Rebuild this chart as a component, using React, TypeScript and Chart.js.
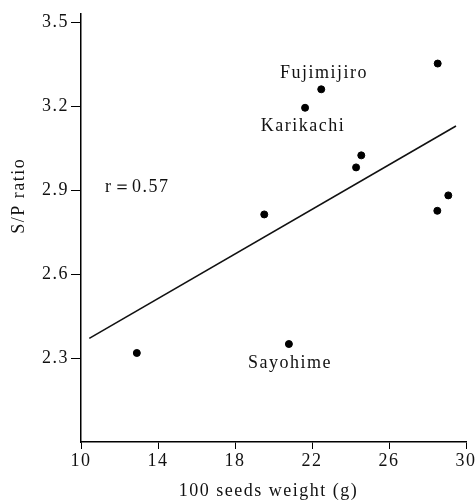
import React, { useEffect, useRef } from "react";
import { Chart, registerables } from "chart.js";

Chart.register(...registerables);

const seedWeight = [12.9, 20.8, 28.53, 22.48, 21.64, 24.56, 24.29, 19.52, 29.08, 28.51];
const spRatio = [2.318, 2.35, 3.352, 3.26, 3.194, 3.024, 2.981, 2.813, 2.881, 2.826];
const fitX = [10.43, 29.48];
const fitY = [2.37, 3.129];
const yTicks = [2.3, 2.6, 2.9, 3.2, 3.5];
const labelTexts = ["Fujimijiro", "Karikachi", "Sayohime", "r\uFF1D0.57"];
const labelX = [22.62, 21.53, 20.86, 11.25];
const labelY = [3.318, 3.129, 2.282, 2.911];
const labelAlign = ["center", "center", "center", "left"];
const xTitle = "100 seeds weight (g)";
const yTitle = "S/P ratio";

const FONT = "'Liberation Serif', 'DejaVu Serif', serif";
const SPACING = "1.5px";

const labelPlugin = {
  id: "labels",
  beforeDraw(chart: any) {
    (chart.ctx as any).letterSpacing = SPACING;
  },
  afterDatasetsDraw(chart: any) {
    const { ctx, scales, chartArea } = chart;
    ctx.save();
    (ctx as any).letterSpacing = SPACING;
    ctx.fillStyle = "#111";
    ctx.font = `18px ${FONT}`;
    ctx.textBaseline = "middle";
    labelTexts.forEach((t, i) => {
      ctx.textAlign = labelAlign[i];
      ctx.fillText(t, scales.x.getPixelForValue(labelX[i]), scales.y.getPixelForValue(labelY[i]));
    });
    // axis titles
    ctx.textAlign = "center";
    ctx.fillText(xTitle, (chartArea.left + chartArea.right) / 2 - 5, chartArea.bottom + 49);
    ctx.translate(19, scales.y.getPixelForValue(2.88));
    ctx.rotate(-Math.PI / 2);
    ctx.fillText(yTitle, 0, 0);
    ctx.restore();
  },
};

export default function App() {
  const ref = useRef<HTMLCanvasElement>(null);
  useEffect(() => {
    if (!ref.current) return;
    const chart = new Chart(ref.current, {
      type: "scatter",
      data: {
        datasets: [
          {
            label: "points",
            data: seedWeight.map((x, i) => ({ x, y: spRatio[i] })),
            backgroundColor: "#000",
            borderColor: "#000",
            pointRadius: 3.5,
            pointHoverRadius: 3.5,
          },
          {
            type: "line",
            label: "fit",
            data: fitX.map((x, i) => ({ x, y: fitY[i] })),
            borderColor: "#111",
            borderWidth: 1.6,
            pointRadius: 0,
            fill: false,
          } as any,
        ],
      },
      options: {
        animation: false,
        responsive: true,
        maintainAspectRatio: false,
        layout: { padding: { top: 14, right: 10, left: 0, bottom: 0 } },
        plugins: { legend: { display: false }, tooltip: { enabled: false } },
        scales: {
          x: {
            type: "linear",
            min: 10,
            max: 30,
            ticks: { stepSize: 4, color: "#111", font: { family: FONT, size: 18 }, padding: 1 },
            grid: { drawOnChartArea: false, drawTicks: true, tickLength: 7, color: "#000" },
            border: { display: true, color: "#000", width: 1.5 },
            afterFit: (s: any) => { s.height = 59; },
          },
          y: {
            type: "linear",
            min: 2.0,
            max: 3.529,
            afterBuildTicks: (s: any) => { s.ticks = yTicks.map((v) => ({ value: v })); },
            ticks: { color: "#111", font: { family: FONT, size: 18 }, padding: 2, callback: (v: any) => Number(v).toFixed(1) },
            grid: { drawOnChartArea: false, drawTicks: true, tickLength: 10, color: "#000" },
            border: { display: true, color: "#000", width: 1.5 },
            afterFit: (s: any) => { s.width = 81; },
          },
        },
      },
      plugins: [labelPlugin],
    });
    return () => chart.destroy();
  }, []);
  return (
    <div style={{ position: "absolute", left: 0, top: 0, width: 476, height: 501, background: "#fff" }}>
      <canvas ref={ref} />
    </div>
  );
}
